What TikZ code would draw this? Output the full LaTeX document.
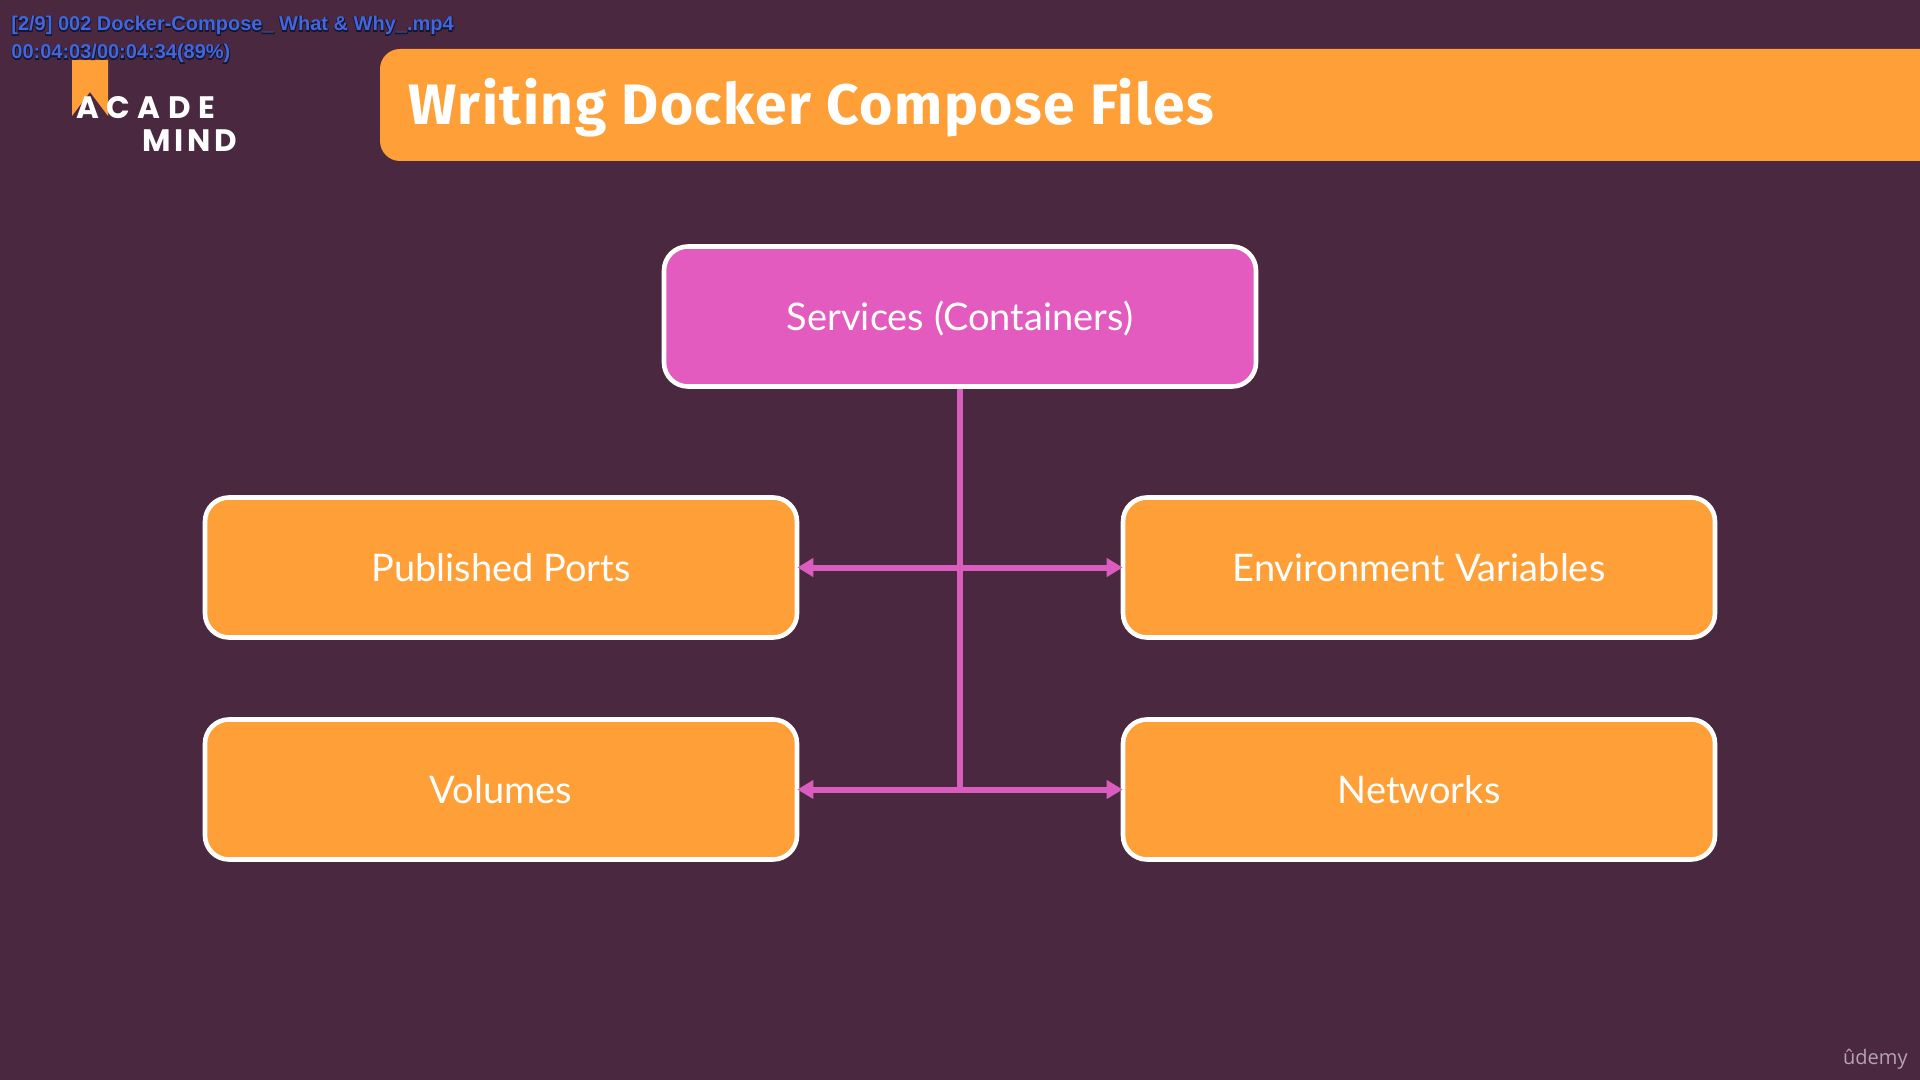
\documentclass[tikz,border=0pt]{standalone}
\usepackage{fontspec}
\setmainfont{Lato}
\newfontfamily\titlefont[LetterSpace=2.6]{Fira Sans}
\newfontfamily\logofont[LetterSpace=12]{Poppins}
\newfontfamily\overlayfront[UprightFont={* Bold}]{Liberation Sans}
\newfontfamily\overlayback[UprightFont={* Bold},FakeBold=8]{Liberation Sans}
\usetikzlibrary{arrows.meta}

\definecolor{bgplum}{HTML}{4A2840}
\definecolor{boxorange}{HTML}{FF9F38}
\definecolor{boxpink}{HTML}{E35BBF}
\definecolor{linkpink}{HTML}{D95CBE}
\definecolor{udemygray}{HTML}{B5A3B2}
\definecolor{overlayblue}{HTML}{4466DD}
\definecolor{overlaydark}{HTML}{14162E}

\newcommand{\overlaytext}[1]{\rlap{\overlayback\color{overlaydark}#1}{\overlayfront\color{overlayblue}#1}}

\tikzset{
  servicebox/.style={draw=white,line width=2.3pt,rounded corners=12pt,minimum width=296pt,
    minimum height=70pt,text=white,inner sep=0pt,text height=15pt,text depth=1pt,
    font=\fontsize{19}{22}\selectfont},
  orangebox/.style={servicebox,fill=boxorange},
  link/.style={color=linkpink,line width=3.2pt},
  biglink/.style={link,line width=3pt,{Triangle[length=8pt,width=9pt]}-{Triangle[length=8pt,width=9pt]},shorten <=-1pt,shorten >=-1pt},
  logotext/.style={text=white,anchor=base west,inner sep=0pt,font=\fontsize{15.5}{18}\selectfont\logofont\bfseries},
  overlay/.style={anchor=base west,inner sep=0pt,font=\fontsize{10}{12}\selectfont}
}

\begin{document}
\begin{tikzpicture}[x=0.5pt,y=-0.5pt]

\useasboundingbox (0,0) rectangle (1920,1080);
\fill[bgplum] (0,0) rectangle (1920,1080);

%banner
\fill[boxorange] (1920,49) [rounded corners=10pt] -- (380,49) -- (380,161) [sharp corners] -- (1920,161) -- cycle;
\node[anchor=base west,inner sep=0pt,text=white] at (408,125) (title)
  {\titlefont\bfseries\fontsize{28.5}{32}\selectfont Writing Docker Compose Files};

%logo
\fill[boxorange] (72,60) -- (108,60) -- (108,116) -- (90,92) -- (72,116) -- cycle;
\node[logotext] at (76,119) (acade) {\addfontfeature{LetterSpace=24}ACADE};
\node[logotext] at (142,152) (mind) {MIND};

%boxes
\node[servicebox,fill=boxpink] at (960,316.5) (services) {Services (Containers)};
\node[orangebox] at (501,567.5) (ports) {Published Ports};
\node[orangebox] at (1419,567.5) (envvars) {Environment Variables};
\node[orangebox] at (501,789.5) (volumes) {Volumes};
\node[orangebox] at (1419,789.5) (networks) {Networks};

%links
\coordinate (junction) at (services.south |- volumes);
\draw[link] (services) -- (junction);
\draw[biglink] (ports) -- (envvars);
\draw[biglink] (volumes) -- (networks);

%video overlay
\node[overlay] at (11,31) (filename) {\overlaytext{[2/9] 002 Docker-Compose\_ What \& Why\_.mp4}};
\node[overlay] at (11,59) (timecode) {\overlaytext{00:04:03/00:04:34(89\%)}};

\node[anchor=base east,inner sep=0pt,text=udemygray] at (1908,1064) (udemy)
  {\fontspec{Open Sans}\fontsize{10}{12}\selectfont ûdemy};

\end{tikzpicture}
\end{document}
